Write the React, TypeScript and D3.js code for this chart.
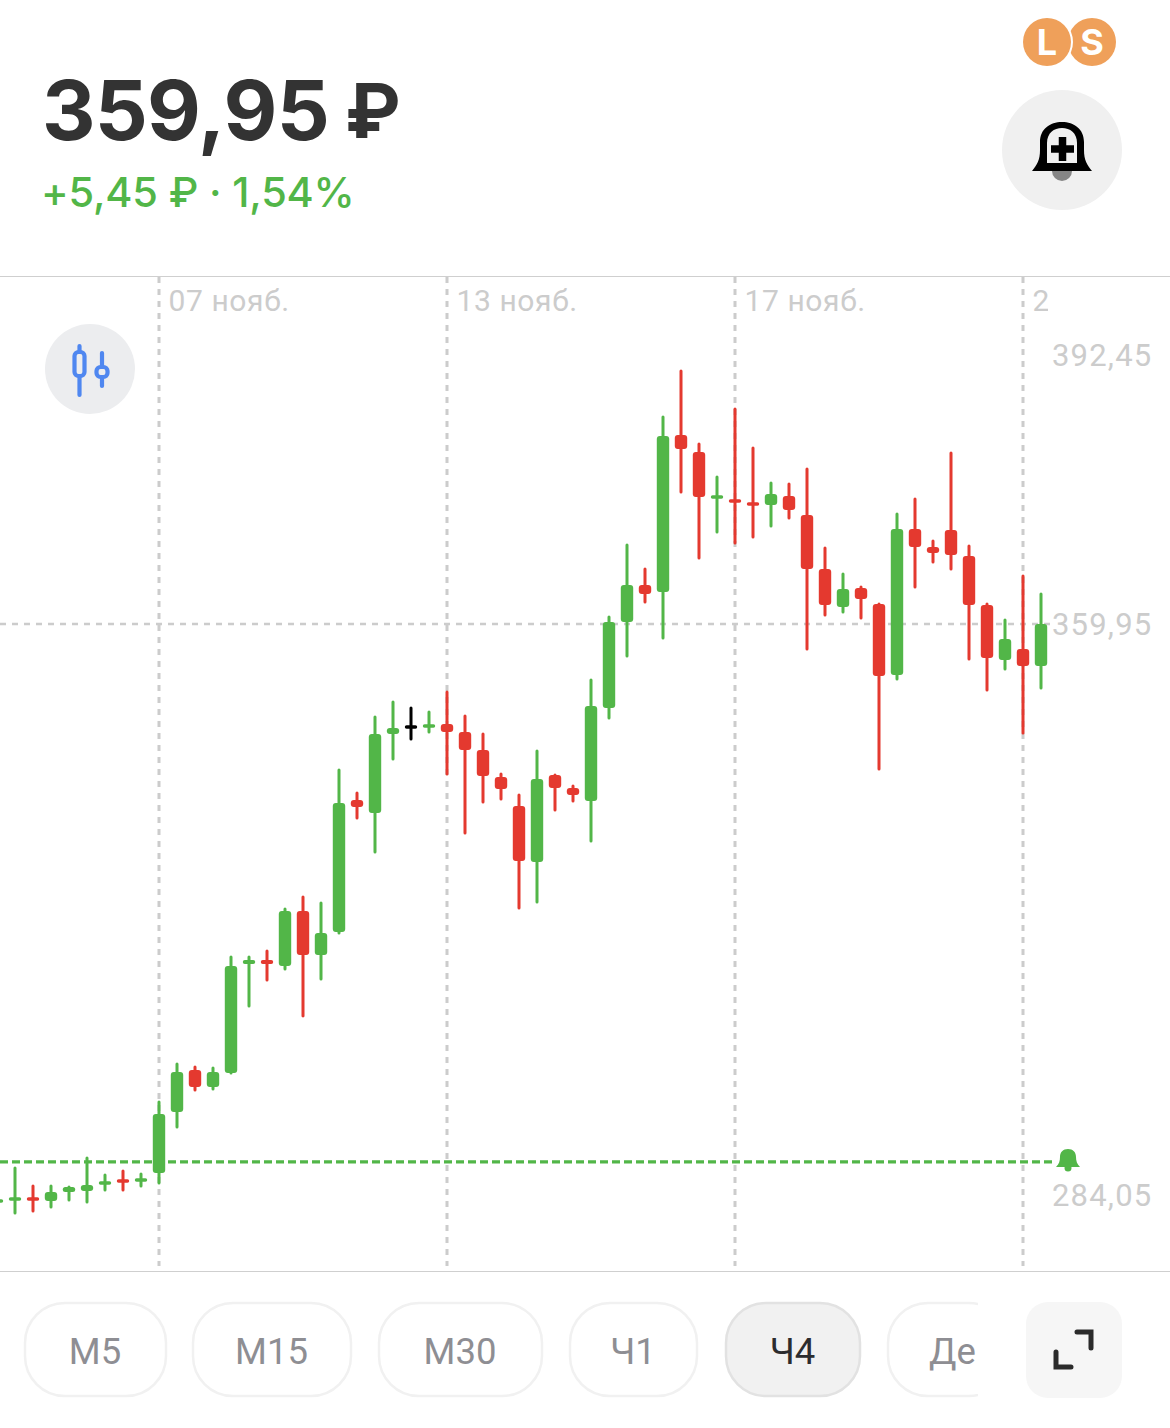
import React from "react";
import * as d3 from "d3";

const indices = d3.range(-1, 58);
const opens = [283.19,283.39,283.65,283.26,284.45,284.59,285.51,286.05,285.91,286.98,295.09,300.67,298.41,300.27,314.76,315.29,314.49,321.81,315.96,319.01,336.56,334.83,345.33,346.27,346.26,346.66,345.6,343.21,339.62,335.76,328.32,339.88,338.15,336.43,348.79,360.22,365.14,364.21,385.08,382.82,376.7,376.44,376.04,375.77,376.97,374.44,367.27,362.21,364.74,362.61,353.17,372.58,370.19,372.45,368.99,362.48,355.17,356.63,354.37];
const closes = [283.32,283.65,283.39,284.45,285.12,285.38,285.78,285.78,286.18,294.82,300.4,298.41,300.4,314.49,315.29,314.76,321.81,315.96,318.88,336.16,335.63,345.33,346.13,346.27,346.53,345.6,343.21,339.75,338.02,328.45,339.35,338.15,337.22,349.05,360.22,365.14,363.94,384.94,383.22,376.84,376.97,376.17,375.77,377.23,375.11,367.27,362.48,364.61,363.28,353.04,372.58,370.19,369.39,369.13,362.48,355.43,357.96,354.37,359.95];
const highs = [283.52,287.64,285.25,285.25,285.12,288.97,286.71,287.24,286.84,296.42,301.47,301.07,300.94,315.69,315.69,316.49,322.07,323.67,322.87,340.55,337.49,347.59,349.59,348.79,348.26,350.92,347.72,345.33,340.02,337.22,343.07,339.88,338.42,352.51,360.88,370.46,367.27,387.47,393.58,383.88,379.49,388.53,383.35,378.7,378.56,380.56,370.06,366.6,364.87,362.61,374.58,376.57,370.99,382.68,370.32,362.61,360.49,366.33,363.94];
const lows = [282.99,281.66,281.93,282.46,283.39,283.12,284.72,284.72,285.25,285.65,293.09,298.01,298.14,300.27,309.18,312.63,314.1,307.85,312.77,318.88,334.17,329.65,342.01,344.67,345.6,340.02,332.17,336.29,336.69,322.2,323,335.23,336.43,331.11,347.46,355.7,362.88,358.09,377.5,368.73,372.18,370.72,371.52,372.98,374.04,356.63,361.15,361.55,360.75,340.68,352.64,364.87,368.2,367.27,355.3,351.18,353.97,345.47,351.45];

const lastPrice = 359.95;
const alertPrice = 288.44;
const priceLabels = ["392,45", "359,95", "284,05"];
const dateLabels = ["07 нояб.", "13 нояб.", "17 нояб.", "2"];
const dateIndices = [8, 24, 40, 56];
const periods = ["М5", "М15", "М30", "Ч1", "Ч4", "Де"];
const activePeriod = "Ч4";
const headlineValue = "359,95";
const currency = "₽";
const change = "+5,45 ₽ · 1,54%";

const GREEN = "#52B648";
const RED = "#E4392F";
const GRID = "#CCCCCC";
const FONT = "Inter, Roboto, sans-serif";

const x = d3.scaleLinear().domain([0, 57]).range([15, 1041]);
const y = d3.scaleLinear().domain([284.05, 359.95]).range([1195, 624]);
const labelY = d3.scaleOrdinal<string, number>().domain(priceLabels).range([355, 624, 1195]);
const pillX = d3.scaleOrdinal<string, [number, number]>().domain(periods).range([[24, 167], [192, 352], [378, 543], [569, 698], [725, 861], [887, 1010]] as any);

export default function App() {
  return (
    <svg width={1170} height={1428} viewBox="0 0 1170 1428" style={{ position: "absolute", left: 0, top: 0, display: "block", background: "#fff" }} fontFamily={FONT}>
      <defs>
        <clipPath id="plot"><rect x={0} y={277} width={1170} height={994} /></clipPath>
        <clipPath id="pills"><rect x={0} y={1290} width={978} height={120} /></clipPath>
        <clipPath id="tail"><rect x={0} y={277} width={1048} height={60} /></clipPath>
      </defs>

      <text x={42} y={139.5} fontSize={83} fontWeight={700} fill="#333333" letterSpacing={-0.8}>{headlineValue}</text>
      <text x={345} y={137.5} fontSize={75} fontWeight={700} fill="#333333">{currency}</text>
      <text x={41} y={207} fontSize={41.5} fontWeight={500} fill={GREEN} letterSpacing={-0.2}>{change}</text>

      <circle cx={1092} cy={42} r={24} fill="#EFA05A" />
      <circle cx={1047} cy={42} r={26} fill="#fff" />
      <circle cx={1047} cy={42} r={24} fill="#EFA05A" />
      <text x={1047} y={55} fontSize={36} fontWeight={700} fill="#fff" textAnchor="middle">L</text>
      <text x={1092} y={55} fontSize={36} fontWeight={700} fill="#fff" textAnchor="middle">S</text>

      <circle cx={1062} cy={150} r={60} fill="#F0F0F0" />
      <circle cx={1062} cy={171} r={10} fill="#858585" />
      <path d="M1032 171C1037 165 1040 160 1040 150V142C1040 129 1050 122 1062 122C1074 122 1084 129 1084 142V150C1084 160 1087 165 1092 171Z" fill="#000" />
      <path d="M1047 163V143C1047 133 1054 128 1062 128C1070 128 1077 133 1077 143V163Z" fill="#F0F0F0" />
      <path d="M1051 149H1074M1062.5 137V161" stroke="#000" strokeWidth={7.5} fill="none" />

      <line x1={0} x2={1170} y1={276.5} y2={276.5} stroke="#CFCFCF" strokeWidth={1.2} />
      <line x1={0} x2={1170} y1={1271.5} y2={1271.5} stroke="#CFCFCF" strokeWidth={1.2} />

      <g clipPath="url(#plot)">
        {dateIndices.map((d) => (
          <line key={d} x1={x(d)} x2={x(d)} y1={277} y2={1266} stroke={GRID} strokeWidth={3} strokeDasharray="6 6" />
        ))}
        <line x1={0} x2={1052} y1={y(lastPrice)} y2={y(lastPrice)} stroke={GRID} strokeWidth={2.6} strokeDasharray="6 6" />
        <line x1={0} x2={1056} y1={y(alertPrice)} y2={y(alertPrice)} stroke={GREEN} strokeWidth={3.2} strokeDasharray="8 4" />

        {indices.map((idx, i) => {
          const o = opens[i], c = closes[i];
          const color = o === c ? "#000" : c > o ? GREEN : RED;
          const top = y(Math.max(o, c));
          const bottom = y(Math.min(o, c));
          const h = Math.max(bottom - top, 3.5);
          const cy = (top + bottom) / 2;
          const cx = x(idx);
          return (
            <g key={idx}>
              <line x1={cx} x2={cx} y1={y(highs[i])} y2={y(lows[i])} stroke={color} strokeWidth={3} strokeLinecap="round" />
              <rect x={cx - 6.2} y={cy - h / 2} width={12.4} height={h} rx={Math.min(3, h / 2)} fill={color} />
            </g>
          );
        })}
      </g>

      {dateLabels.map((t, i) => (
        <text key={t} x={x(dateIndices[i]) + 9.5} y={311} fontSize={30} fill="#CCCCCC" fontFamily="Roboto, sans-serif" letterSpacing={0.6} clipPath={t === "2" ? "url(#tail)" : undefined}>{t}</text>
      ))}
      {priceLabels.map((t) => (
        <text key={t} x={1052} y={labelY(t) + 10.5} fontSize={31} fill="#CCCCCC" fontFamily="Roboto, sans-serif" letterSpacing={1.2}>{t}</text>
      ))}

      <path d="M1056 1167C1059 1164 1060 1161 1060 1157C1060 1152 1063 1149 1068 1149C1073 1149 1076 1152 1076 1157C1076 1161 1077 1164 1080 1167Z" fill={GREEN} />
      <circle cx={1068} cy={1168} r={3.5} fill={GREEN} />

      <circle cx={90} cy={369} r={45} fill="#ECEDEF" />
      <g fill="none" stroke="#4F87F0" strokeWidth={4.2} strokeLinecap="round">
        <path d="M79.5 346V352M79.5 376V395M102 353V367M102 377V386" />
        <rect x={74.5} y={352} width={10} height={24} rx={4} />
        <rect x={96.5} y={367} width={11} height={10} rx={4} />
      </g>

      <g clipPath="url(#pills)">
        {periods.map((p) => {
          const [a, b] = pillX(p);
          const active = p === activePeriod;
          return (
            <g key={p}>
              <rect x={a + 1} y={1303} width={b - a - 2} height={93} rx={40} fill={active ? "#F1F1F1" : "#fff"} stroke={active ? "#E2E2E2" : "#F1F1F1"} strokeWidth={2.5} />
              <text x={p === "Де" ? 929 : (a + b) / 2 - 0.5} y={1363.5} fontSize={36.5} fill={active ? "#2C2C2E" : "#8E8E93"} textAnchor={p === "Де" ? "start" : "middle"} fontFamily="Roboto, sans-serif">{p}</text>
            </g>
          );
        })}
      </g>

      <rect x={1026} y={1302} width={96} height={96} rx={22} fill="#F6F6F6" />
      <path d="M1077 1332H1091V1348M1056 1352V1367H1071" fill="none" stroke="#2B2B2B" strokeWidth={5} strokeLinecap="round" />
    </svg>
  );
}
